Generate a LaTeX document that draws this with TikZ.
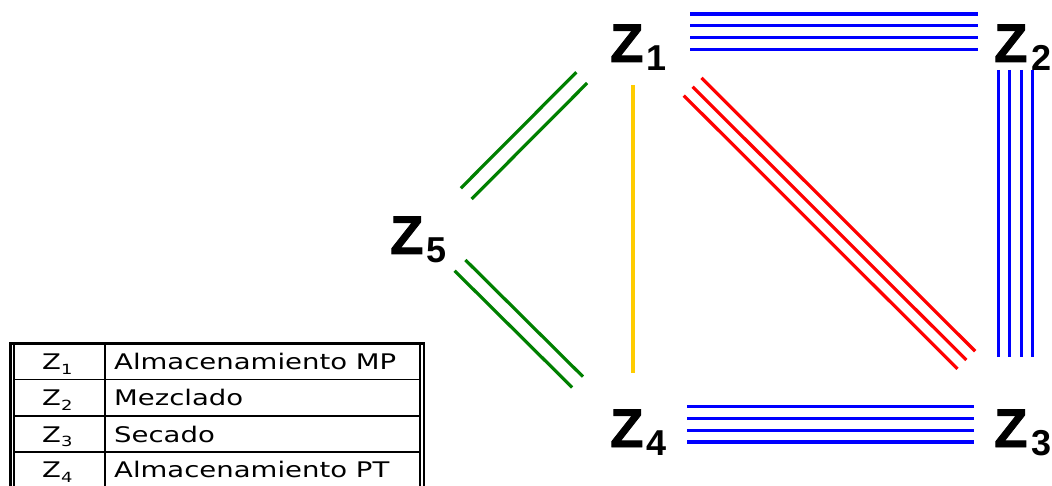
\documentclass[tikz,border=0pt]{standalone}
\usepackage{fontspec}
\setmainfont{Liberation Sans}
\newfontfamily\labZ{Liberation Sans}[FakeBold=1.5]
\newfontfamily\labS{Liberation Sans}
\newfontfamily\tabfont{DejaVu Sans}[FakeStretch=1.28]
\definecolor{zblue}{RGB}{0,0,255}
\definecolor{zred}{RGB}{255,0,0}
\definecolor{zgreen}{RGB}{0,128,0}
\definecolor{zyellow}{RGB}{255,204,0}
\newcommand\zsub[1]{\hspace{3.5pt}\raisebox{-8.5pt}{\labS\bfseries\fontsize{36}{36}\selectfont #1}}
\newcommand\tsub[1]{\raisebox{-4.5pt}{\fontsize{14}{14}\selectfont #1}}
\tikzset{
  lab/.style={inner sep=0pt, anchor=base west, font=\labZ\bfseries\fontsize{54.5}{60}\selectfont},
  conn/.style={line width=3.2pt},
  tabtext/.style={inner sep=0pt, anchor=base west, font=\tabfont\fontsize{21.5}{24}\selectfont},
  thickrule/.style={line width=2.7pt},
  thinrule/.style={line width=1.6pt}
}
\begin{document}
\begin{tikzpicture}[x=1pt,y=1pt]
\useasboundingbox (0,0) rectangle (1052,485);
\clip (0,0) rectangle (1052,485);

% labels
\node[lab] (z1) at (610,423) {Z\zsub{1}};
\node[lab] (z2) at (994,423) {Z\zsub{2}};
\node[lab] (z4) at (610,38) {Z\zsub{4}};
\node[lab] (z3) at (994,38) {Z\zsub{3}};
\node[lab] (z5) at (390,231) {Z\zsub{5}};

% connector end points
\coordinate (a12) at (690,453.4);   \coordinate (b12) at (978,453.4);
\coordinate (a43) at (687,60.7);    \coordinate (b43) at (974,60.7);
\coordinate (a23) at (1015.5,415);  \coordinate (b23) at (1015.5,128.3);
\coordinate (a13) at (692.6,398.3); \coordinate (b13) at (966.3,125);
\coordinate (a51) at (466.2,291.35);\coordinate (b51) at (581.7,407.3);
\coordinate (a54) at (460,219.65);  \coordinate (b54) at (577.5,103);
\coordinate (a14) at (633,400);     \coordinate (b14) at (633,111.7);

\foreach \o in {-17.6,-5.85,5.85,17.6}{
  \draw[conn,zblue] ([yshift=\o pt]a12) -- ([yshift=\o pt]b12);
  \draw[conn,zblue] ([yshift=\o pt]a43) -- ([yshift=\o pt]b43);
}
\foreach \o in {-17.2,-5.7,5.7,17.2}{
  \draw[conn,zblue] ([xshift=\o pt]a23) -- ([xshift=\o pt]b23);
}
\foreach \o in {-8.85,0,8.85}{
  \draw[conn,zred] ([xshift=\o pt,yshift=\o pt]a13) -- ([xshift=\o pt,yshift=\o pt]b13);
}
\foreach \o in {-5.4,5.4}{
  \draw[conn,zgreen] ([xshift=\o pt,yshift=-\o pt]a51) -- ([xshift=\o pt,yshift=-\o pt]b51);
  \draw[conn,zgreen] ([xshift=\o pt,yshift=\o pt]a54) -- ([xshift=\o pt,yshift=\o pt]b54);
}
\draw[conn,zyellow,line width=3.4pt] (a14) -- (b14);

% table
\draw[line width=3pt] (9.3,141.5) -- (425.4,141.5);
\draw[thickrule] (10.7,143) -- (10.7,-5);
\draw[line width=1.3pt] (14,141.5) -- (14,-5);
\draw[line width=2pt] (419.5,141.5) -- (419.5,-5);
\draw[thickrule] (424,143) -- (424,-5);
\draw[line width=2pt] (105,141.5) -- (105,-5);
\foreach \yy in {105.5,69,33}{
  \draw[thinrule] (14,\yy) -- (419.5,\yy);
}
\node[tabtext] (c1) at (42,115.5) {Z\tsub{1}};
\node[tabtext] (c2) at (42,79.2) {Z\tsub{2}};
\node[tabtext] (c3) at (42,43) {Z\tsub{3}};
\node[tabtext] (c4) at (42,7.5) {Z\tsub{4}};
\node[tabtext] (d1) at (114,115.5) {Almacenamiento MP};
\node[tabtext] (d2) at (114,79.2) {Mezclado};
\node[tabtext] (d3) at (114,43) {Secado};
\node[tabtext] (d4) at (114,7.5) {Almacenamiento PT};
\end{tikzpicture}
\end{document}
